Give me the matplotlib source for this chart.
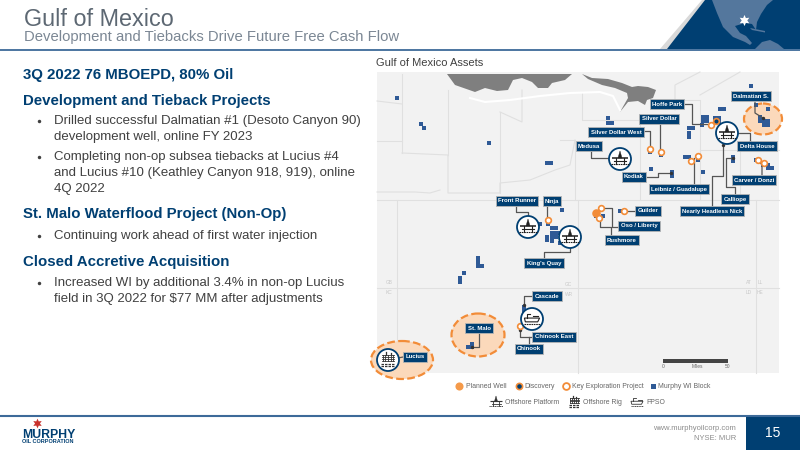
import matplotlib
matplotlib.use("Agg")
import matplotlib.pyplot as plt
from matplotlib.patches import Rectangle, Circle, Ellipse, Polygon

plt.rcParams['font.family'] = ['Liberation Sans', 'DejaVu Sans']

NAVY = '#003f72'

# body text: (text, y, kind)
body_lines = [
    ('3Q 2022 76 MBOEPD, 80% Oil', 75, 'head'),
    ('Development and Tieback Projects', 101, 'head'),
    ('Drilled successful Dalmatian #1 (Desoto Canyon 90)', 121, 'bullet'),
    ('development well, online FY 2023', 137, 'text'),
    ('Completing non-op subsea tiebacks at Lucius #4', 157, 'bullet'),
    ('and Lucius #10 (Keathley Canyon 918, 919), online', 173, 'text'),
    ('4Q 2022', 189, 'text'),
    ('St. Malo Waterflood Project (Non-Op)', 214, 'head'),
    ('Continuing work ahead of first water injection', 236, 'bullet'),
    ('Closed Accretive Acquisition', 262, 'head'),
    ('Increased WI by additional 3.4% in non-op Lucius', 283, 'bullet'),
    ('field in 3Q 2022 for $77 MM after adjustments', 299, 'text'),
]

# map annotations
field_names = ['Hoffe Park', 'Silver Dollar', 'Silver Dollar West', 'Medusa', 'Kodiak',
               'Leibniz / Guadalupe', 'Dalmatian S.', 'Delta House', 'Carver / Donzi',
               'Calliope', 'Nearly Headless Nick', 'Front Runner', 'Ninja', 'Guilder',
               'Oso / Liberty', 'Rushmore', "King's Quay", 'Cascade', 'Chinook East',
               'Chinook', 'St. Malo', 'Lucius']
field_x = [667, 659, 616, 589, 634, 679, 751, 757, 754, 735, 712, 517, 552, 648, 639, 622,
           544, 547, 554, 529, 479, 415]
field_y = [104, 119, 132, 146, 177, 189, 96, 146, 180, 199, 211, 201, 201, 211, 226, 240,
           263, 296, 337, 349, 328, 357]

blocks = [(397, 98), (421, 124), (424, 128), (489, 143), (547, 163), (551, 163),
          (608, 118), (608, 123), (612, 123), (650, 152), (661, 155), (751, 86),
          (756, 105), (768, 109), (760, 117), (760, 121), (764, 121), (764, 125),
          (768, 125), (768, 121), (703, 117), (707, 117), (703, 121), (707, 121),
          (702, 125), (715, 118), (719, 118), (719, 122), (712, 126), (720, 109),
          (724, 109), (689, 128), (693, 128), (689, 133), (689, 137), (685, 157),
          (689, 157), (698, 160), (651, 169), (703, 172), (672, 172), (672, 176),
          (733, 157), (733, 161), (756, 160), (763, 165), (768, 165), (768, 168),
          (772, 168), (562, 210), (596, 216), (603, 216), (620, 211), (540, 224),
          (548, 224), (552, 228), (556, 228), (556, 233), (552, 233), (547, 237),
          (552, 237), (547, 240), (552, 241), (556, 237), (560, 233), (560, 243),
          (478, 258), (478, 262), (478, 266), (482, 266), (464, 273), (460, 278),
          (460, 282), (524, 307), (524, 311), (468, 347), (472, 344), (472, 347)]

rings = [(650, 149), (661, 152), (698, 156), (691, 161), (711, 125), (758, 160),
         (764, 163), (548, 220), (601, 208), (599, 218), (624, 211), (520, 326)]
discovery = [(716, 121)]
planned = [(596, 213)]
leader_ends = [(671, 173), (763, 118), (733, 158), (723, 145), (472, 347), (524, 305),
               (520, 330), (750, 142)]

platforms = [(620, 159), (727, 133), (528, 227), (570, 237)]
fpso = [(532, 319)]
rigs = [(388, 360)]

leaders = [
    [(685, 104), (692, 104), (692, 124), (710, 124)],
    [(660, 122), (660, 152)],
    [(643, 131), (650, 131), (650, 148)],
    [(591, 150), (591, 158), (610, 158)],
    [(647, 177), (658, 177), (658, 173), (671, 173)],
    [(694, 185), (694, 158)],
    [(755, 100), (755, 113), (763, 118)],
    [(738, 133), (750, 133), (750, 142)],
    [(762, 175), (762, 165), (758, 160)],
    [(735, 195), (735, 187), (726, 187), (726, 158), (733, 158)],
    [(712, 206), (712, 176), (723, 176), (723, 145)],
    [(516, 205), (516, 212), (528, 212), (528, 218)],
    [(547, 205), (547, 218)],
    [(635, 211), (625, 211)],
    [(605, 208), (612, 208), (612, 227), (620, 227)],
    [(600, 220), (600, 227), (611, 227), (611, 235)],
    [(544, 258), (544, 252), (570, 252), (570, 247)],
    [(532, 296), (524, 296), (524, 305)],
    [(533, 337), (520, 337), (520, 330)],
    [(529, 345), (529, 337)],
    [(479, 333), (479, 347), (472, 347)],
    [(403, 357), (398, 358)],
]

focus_x = [763, 478, 402]
focus_y = [119, 335, 360]
focus_w = [38, 53, 62]
focus_h = [31, 43, 38]

# lease area boundaries
area_lines = [
    [(377, 200), (779, 200)],
    [(377, 288), (779, 288)],
    [(397, 200), (397, 373)],
    [(578, 200), (578, 373)],
    [(756, 200), (756, 373)],
    [(402, 74), (402, 153)],
    [(377, 101), (402, 104)],
    [(377, 141), (402, 141)],
    [(402, 153), (448, 155), (448, 193), (500, 193), (500, 183), (530, 180), (555, 170), (570, 165), (575, 140)],
    [(448, 90), (448, 155)],
    [(500, 112), (500, 193)],
    [(500, 112), (522, 122), (522, 90)],
    [(560, 140), (575, 140), (575, 200)],
    [(582, 92), (582, 120), (640, 120)],
    [(640, 120), (640, 200)],
    [(700, 72), (675, 85), (675, 110)],
    [(675, 100), (700, 100), (700, 200)],
    [(740, 72), (700, 95)],
    [(740, 150), (779, 150)],
    [(700, 150), (740, 150), (740, 200)],
    [(377, 192), (415, 192), (430, 193), (440, 190)],
]

coast_a = [(447, 74), (455, 85), (475, 92), (485, 88), (497, 91), (508, 90), (513, 80),
           (522, 78), (532, 82), (538, 88), (548, 88), (552, 83), (565, 80), (572, 74)]
coast_b = [(582, 74), (592, 78), (608, 79), (622, 83), (632, 87), (638, 86), (648, 87),
           (656, 90), (653, 98), (647, 100), (645, 105), (638, 101), (628, 102),
           (620, 112), (628, 98), (627, 93), (615, 88), (602, 85), (588, 79)]
shelf = [(470, 98), (485, 102), (510, 100), (540, 96), (570, 93), (600, 92), (613, 96), (620, 110)]

# header globe shapes
globe_land = [(712, 0), (717, 13), (723, 27), (733, 37), (745, 42), (750, 45), (752, 43),
              (746, 36), (740, 33), (735, 26), (745, 23), (752, 24), (756, 30), (757, 22),
              (761, 14), (767, 5), (773, 0)]
globe_land2 = [(755, 49), (762, 42), (770, 40), (778, 44), (784, 49)]
globe_land3 = [(750, 28), (765, 31), (765, 32.5), (752, 30)]

# legend
legend_row1 = [('Planned Well', 466), ('Discovery', 524), ('Key Exploration Project', 572),
               ('Murphy WI Block', 658)]
legend_row2 = [('Offshore Platform', 505), ('Offshore Rig', 583), ('FPSO', 646)]

map_codes = [('KC', 389, 292), ('GB', 389, 283), ('GC', 568, 285), ('WR', 569, 295),
             ('AT', 749, 283), ('LL', 760, 283), ('LD', 749, 292), ('HE', 760, 292)]


def draw_platform(ax, x, y, s=1.0, lw=0.8, color='#222222'):
    # deck, legs, derrick and water
    ax.plot([x - 8 * s, x + 8 * s], [y - 1 * s, y - 1 * s], color=color, lw=lw * 1.4, solid_capstyle='butt')
    ax.plot([x - 6 * s, x + 6 * s], [y + 2 * s, y + 2 * s], color=color, lw=lw)
    ax.plot([x - 4 * s, x - 4 * s], [y - 1 * s, y + 5 * s], color=color, lw=lw)
    ax.plot([x + 4 * s, x + 4 * s], [y - 1 * s, y + 5 * s], color=color, lw=lw)
    ax.add_patch(Polygon([(x - 2 * s, y - 1 * s), (x, y - 8 * s), (x + 2 * s, y - 1 * s)],
                         closed=True, fc=color, ec=color, lw=0.3))
    ax.plot([x - 9 * s, x + 9 * s], [y + 5 * s, y + 5 * s], color=color, lw=lw, ls=(0, (1.5, 0.6)))


def draw_rig(ax, x, y, s=1.0, lw=0.6, color='#333333'):
    for i in range(-2, 3):
        ax.plot([x + i * 2.6 * s] * 2, [y - 5 * s, y + 1 * s], color=color, lw=lw)
    for j in (-5, -3, -1, 1):
        ax.plot([x - 6 * s, x + 6 * s], [y + j * s, y + j * s], color=color, lw=lw)
    ax.plot([x - 2 * s, x - 2 * s], [y - 8 * s, y - 5 * s], color=color, lw=lw * 1.5)
    ax.plot([x + 3 * s, x + 3 * s], [y - 7 * s, y - 5 * s], color=color, lw=lw * 1.5)
    ax.plot([x - 7 * s, x + 7 * s], [y + 4 * s, y + 4 * s], color=color, lw=lw * 1.5, ls=(0, (2, 0.8)))
    ax.plot([x - 7 * s, x + 7 * s], [y + 6 * s, y + 6 * s], color=color, lw=lw * 1.5, ls=(0, (2, 0.8)))


def draw_fpso(ax, x, y, s=1.0, lw=0.8, color='#222222'):
    hull = [(x - 8 * s, y - 1 * s), (x + 8 * s, y - 1 * s), (x + 6 * s, y + 3 * s), (x - 7 * s, y + 3 * s)]
    ax.add_patch(Polygon(hull, closed=True, fc='white', ec=color, lw=lw))
    ax.plot([x - 5 * s, x - 5 * s, x - 2 * s], [y - 1 * s, y - 5 * s, y - 5 * s], color=color, lw=lw)
    ax.plot([x + 1 * s, x + 6 * s], [y - 3 * s, y - 3 * s], color=color, lw=lw)
    ax.plot([x - 8 * s, x + 8 * s], [y + 5 * s, y + 5 * s], color=color, lw=lw, ls=(0, (1.5, 0.6)))


fig = plt.figure(figsize=(8, 4.5), dpi=100)
ax = fig.add_axes([0, 0, 1, 1])
ax.set_xlim(0, 800)
ax.set_ylim(450, 0)
ax.axis('off')

# header
ax.text(24, 19, 'Gulf of Mexico', fontsize=16.8, color='#5d6873', va='center')
ax.text(24, 37, 'Development and Tiebacks Drive Future Free Cash Flow', fontsize=10.75, color='#7b8794', va='center')
ax.add_patch(Polygon([(660, 49), (702, 0), (800, 0), (800, 49)], closed=True, fc='#d9d9d9', ec='none'))
ax.add_patch(Polygon([(667, 49), (705, 0), (800, 0), (800, 49)], closed=True, fc=NAVY, ec='none'))
for shape in (globe_land, globe_land2, globe_land3):
    ax.add_patch(Polygon(shape, closed=True, fc='#54779d', ec='none'))
ax.plot([744], [20], marker=(6, 1, 0), ms=8, color='white', mec='none')
ax.plot([0, 800], [49.5, 49.5], color='#3d6a99', lw=1.3)

# left column
for txt, y, kind in body_lines:
    if kind == 'head':
        ax.text(23, y, txt, fontsize=10.85, fontweight='bold', color=NAVY, va='center')
    else:
        ax.text(54, y, txt, fontsize=9.55, color='#404040', va='center')
        if kind == 'bullet':
            ax.plot([39], [y], marker='o', ms=2.5, color='#404040', mec='none')

# map
ax.text(376, 63, 'Gulf of Mexico Assets', fontsize=8, color='#404040', va='center')
ax.add_patch(Rectangle((377, 72), 402, 301, fc='#f2f2f2', ec='none'))
for seg in area_lines:
    ax.plot([p[0] for p in seg], [p[1] for p in seg], color='#e0e0e0', lw=0.8)
ax.add_patch(Polygon(coast_a, closed=True, fc='#7f7f7f', ec='none'))
ax.add_patch(Polygon(coast_b, closed=True, fc='#7f7f7f', ec='none'))
ax.plot([p[0] for p in shelf], [p[1] for p in shelf], color='white', lw=1.5)
for code, x, y in map_codes:
    ax.text(x, y, code, fontsize=3.5, color='#c8c8c8', ha='center', va='center')

for x, y, w, h in zip(focus_x, focus_y, focus_w, focus_h):
    ax.add_patch(Ellipse((x, y), w, h, fc='#fbd9bb', ec='#f28c38', lw=1.6, ls=(0, (3.5, 1.5)), zorder=2))

for x, y in blocks:
    ax.add_patch(Rectangle((x - 2.3, y - 2.3), 4.6, 4.6, fc='#2f5a96', ec='none', zorder=3))

for seg in leaders:
    ax.plot([p[0] for p in seg], [p[1] for p in seg], color='#555555', lw=0.9, zorder=4)
ax.scatter([p[0] for p in leader_ends], [p[1] for p in leader_ends], s=6, color='#333333', zorder=4, lw=0)

ax.scatter([p[0] for p in planned], [p[1] for p in planned], s=38, color='#f28c38', zorder=5, lw=0)
ax.scatter([p[0] for p in rings], [p[1] for p in rings], s=17, fc='white', ec='#f28c38', lw=1.2, zorder=5)
ax.scatter([p[0] for p in discovery], [p[1] for p in discovery], s=17, fc=NAVY, ec='#f28c38', lw=1.2, zorder=5)

for group, painter, scale in ((platforms, draw_platform, 1.0), (fpso, draw_fpso, 0.95), (rigs, draw_rig, 1.0)):
    for x, y in group:
        ax.add_patch(Circle((x, y), 11, fc='white', ec=NAVY, lw=1.3, zorder=6))
        n = len(ax.lines)
        p = len(ax.patches)
        painter(ax, x, y, s=scale)
        for art in ax.lines[n:]:
            art.set_zorder(7)
        for art in ax.patches[p:]:
            art.set_zorder(7)

for name, x, y in zip(field_names, field_x, field_y):
    ax.text(x, y, name, fontsize=4.3, fontweight='bold', color='white', ha='center', va='center', zorder=9,
            bbox=dict(boxstyle='square,pad=0.38', fc=NAVY, ec='#b5b5b5', lw=0.6))

# scale bar
ax.add_patch(Rectangle((663, 359), 65, 3.5, fc='#444444', ec='none'))
ax.text(663, 366, '0', fontsize=3.5, color='#666666', ha='center', va='center')
ax.text(697, 366, 'Miles', fontsize=3.5, color='#666666', ha='center', va='center')
ax.text(728, 366, '50', fontsize=3.5, color='#666666', ha='center', va='center')

# legend
ax.scatter([459], [386], s=34, color='#f59a4a', lw=0)
ax.scatter([519], [386], s=20, fc=NAVY, ec='#f28c38', lw=1.2)
ax.scatter([566], [386], s=24, fc='white', ec='#f28c38', lw=1.3)
ax.add_patch(Rectangle((651, 384), 5, 5, fc='#2f5a96', ec='none'))
for txt, x in legend_row1:
    ax.text(x, 386, txt, fontsize=4.95, color='#666666', va='center')
draw_platform(ax, 496, 402, s=0.75, lw=0.6, color='#333333')
draw_rig(ax, 574, 402, s=0.75)
draw_fpso(ax, 637, 402, s=0.75, lw=0.6, color='#333333')
for txt, x in legend_row2:
    ax.text(x, 402, txt, fontsize=4.95, color='#666666', va='center')

# footer
ax.plot([0, 800], [415.5, 415.5], color='#3d6a99', lw=1.5)
ax.add_patch(Rectangle((746, 417), 54, 33, fc=NAVY, ec='none'))
ax.text(773, 433, '15', fontsize=10, color='white', ha='center', va='center')
ax.text(736, 428, 'www.murphyoilcorp.com', fontsize=5.5, color='#8c8c8c', ha='right', va='center')
ax.text(736, 439, 'NYSE: MUR', fontsize=5.5, color='#8c8c8c', ha='right', va='center')
ax.plot([37], [423], marker=(6, 1, 0), ms=7, color='#c8312b', mec='none')
ax.text(22, 434.5, 'MURPHY', fontsize=8.8, fontweight='bold', color=NAVY, va='center')
ax.text(22, 441.5, 'OIL CORPORATION', fontsize=3.95, fontweight='bold', color=NAVY, va='center')

fig.savefig('out.png', dpi=100)
